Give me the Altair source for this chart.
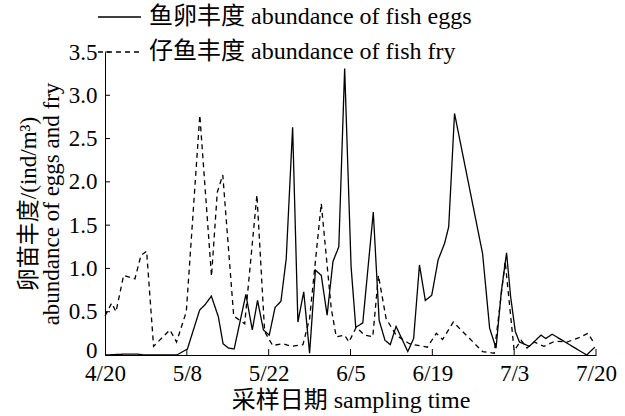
import altair as alt
import pandas as pd

# ---------------- data ----------------
tick_days = [0, 14, 28, 42, 56, 70, 84]
tick_labels = ["4/20", "5/8", "5/22", "6/5", "6/19", "7/3", "7/20"]
y_ticks = [0.5, 1.0, 1.5, 2.0, 2.5, 3.0, 3.5]
y_labels_at = [0, 0.5, 1.0, 1.5, 2.0, 2.5, 3.0, 3.5]

series_names = ["鱼卵丰度 abundance of fish eggs", "仔鱼丰度 abundance of fish fry"]

egg_t = [0, 3.4, 5.5, 6.8, 12.3, 14.1, 16.2, 17.1, 18.2, 19.4,
         20.2, 21.1, 22.1, 24.1, 25.2, 26.1, 27.1, 28.1, 29.1, 30.1,
         31.0, 32.1, 33.0, 34.0, 35.0, 36.0, 37.0, 38.0, 39.0, 40.0,
         41.0, 42.1, 42.9, 44.1, 45.9, 46.9, 47.9, 48.8, 49.8, 51.8,
         52.8, 53.8, 54.8, 55.9, 57.0, 58.1, 58.8, 59.8, 64.6, 65.8,
         66.9, 67.8, 68.7, 69.4, 70.2, 70.9, 72.6, 74.6, 75.4, 76.5,
         82.4, 83.8]
egg_v = [0, 0.01, 0.01, 0, 0, 0.07, 0.52, 0.58, 0.68, 0.44,
         0.13, 0.08, 0.07, 0.70, 0.29, 0.63, 0.29, 0.23, 0.55, 0.62,
         1.11, 2.63, 0.38, 0.73, 0.02, 0.98, 0.92, 0.46, 1.08, 1.25,
         3.31, 1.02, 0.32, 0.37, 1.65, 0.40, 0.17, 0.12, 0.33, 0.04,
         0.19, 1.04, 0.63, 0.69, 1.10, 1.29, 1.48, 2.79, 1.17, 0.31,
         0.08, 0.73, 1.18, 0.67, 0.27, 0.15, 0.10, 0.23, 0.19, 0.24,
         0, 0.09]

fry_t = [0, 1.14, 1.88, 3.19, 5.12, 6.15, 7.12, 8.31, 11.1, 12.24,
         13.91, 16.22, 18.22, 19.21, 20.15, 22.02, 23.9, 25.99, 27.31, 28.68,
         30.44, 31.88, 33.86, 35.0, 37.0, 38.7, 39.56, 40.98, 41.74, 42.97,
         44.39, 45.81, 46.78, 48.09, 49.8, 52.07, 55.15, 56.68, 57.76, 59.58,
         64.59, 66.59, 68.46, 70.0, 71.2, 72.2, 73.4, 75.1, 77.0, 79.05,
         81.1, 82.6, 83.66]
fry_v = [0.45, 0.60, 0.50, 0.92, 0.88, 1.15, 1.20, 0.10, 0.29, 0.15,
         0.50, 2.77, 0.91, 1.88, 2.08, 0.45, 0.36, 1.85, 0.27, 0.11,
         0.13, 0.10, 0.12, 0.42, 1.75, 0.54, 0.21, 0.23, 0.15, 0.32,
         0.23, 0.21, 0.92, 0.42, 0.23, 0.13, 0.09, 0.25, 0.18, 0.38,
         0.04, 0.02, 1.08, 0.05, 0.17, 0.08, 0.15, 0.10, 0.16, 0.15,
         0.20, 0.25, 0.14]

df = pd.concat([
    pd.DataFrame({"t": egg_t, "v": egg_v, "series": series_names[0]}),
    pd.DataFrame({"t": fry_t, "v": fry_v, "series": series_names[1]}),
])

# ---------------- layout ----------------
W, H = 491, 303
FONT = "'Liberation Serif', 'Noto Sans CJK SC', serif"
FS = 23

x_label_expr = "''"
for d, l in reversed(list(zip(tick_days, tick_labels))):
    x_label_expr = f"datum.value == {d} ? '{l}' : ({x_label_expr})"

y_label_expr = "datum.value == 0 ? '0' : format(datum.value, '.1f')"

x_scale = alt.Scale(domain=[0, 84], nice=False, zero=False)
y_scale = alt.Scale(domain=[0, 3.5], nice=False)
x_axis = alt.Axis(values=tick_days, labelExpr=x_label_expr,
                  title="采样日期 sampling time", titleFontSize=24,
                  tickSize=0, labelPadding=7, titlePadding=3,
                  grid=False, labelFlush=False)
y_axis = alt.Axis(values=y_labels_at, labelExpr=y_label_expr,
                  title=["卵苗丰度/(ind/m³)", "abundance of eggs and fry"],
                  tickSize=0, labelPadding=8, titlePadding=5,
                  labelOffset={"condition": {"test": "datum.value == 0", "value": -5}, "value": 0},
                  grid=False, titleLineHeight=23)

lines = alt.Chart(df).mark_line(color="black", strokeWidth=1.3).encode(
    x=alt.X("t:Q", scale=x_scale, axis=x_axis),
    y=alt.Y("v:Q", scale=y_scale, axis=y_axis),
    strokeDash=alt.StrokeDash(
        "series:N",
        scale=alt.Scale(domain=series_names, range=[[1, 0], [5, 4]]),
        legend=alt.Legend(title=None, orient="none", legendX=-8, legendY=-57.5,
                          symbolType="stroke", symbolSize=1849,
                          symbolStrokeWidth=1.3, symbolStrokeColor="black",
                          labelFont=FONT, labelFontSize=24, labelColor="black",
                          labelOffset=7, rowPadding=0, labelLimit=600)),
    order="t:Q",
)

xticks = alt.Chart(pd.DataFrame({"t": tick_days[1:]})).mark_rule(
    color="black", strokeWidth=1).encode(
    x=alt.X("t:Q", scale=x_scale, axis=x_axis), y=alt.value(H), y2=alt.value(H - 6))

yticks = alt.Chart(pd.DataFrame({"v": y_ticks})).mark_rule(
    color="black", strokeWidth=1).encode(
    y=alt.Y("v:Q", scale=y_scale, axis=y_axis), x=alt.value(0), x2=alt.value(5))

chart = alt.layer(lines, xticks, yticks).properties(
    width=W, height=H,
    autosize=alt.AutoSizeParams(type="none"),
    padding={"left": 105, "top": 52, "right": 29, "bottom": 61},
    background="white",
).configure_view(stroke=None).configure_axis(
    domainColor="black", domainWidth=1,
    labelFont=FONT, labelFontSize=FS, labelColor="black",
    titleFont=FONT, titleFontSize=FS, titleColor="black",
    titleFontWeight="normal",
)

chart.save("out.html", embed_options={"renderer": "svg", "actions": False})
